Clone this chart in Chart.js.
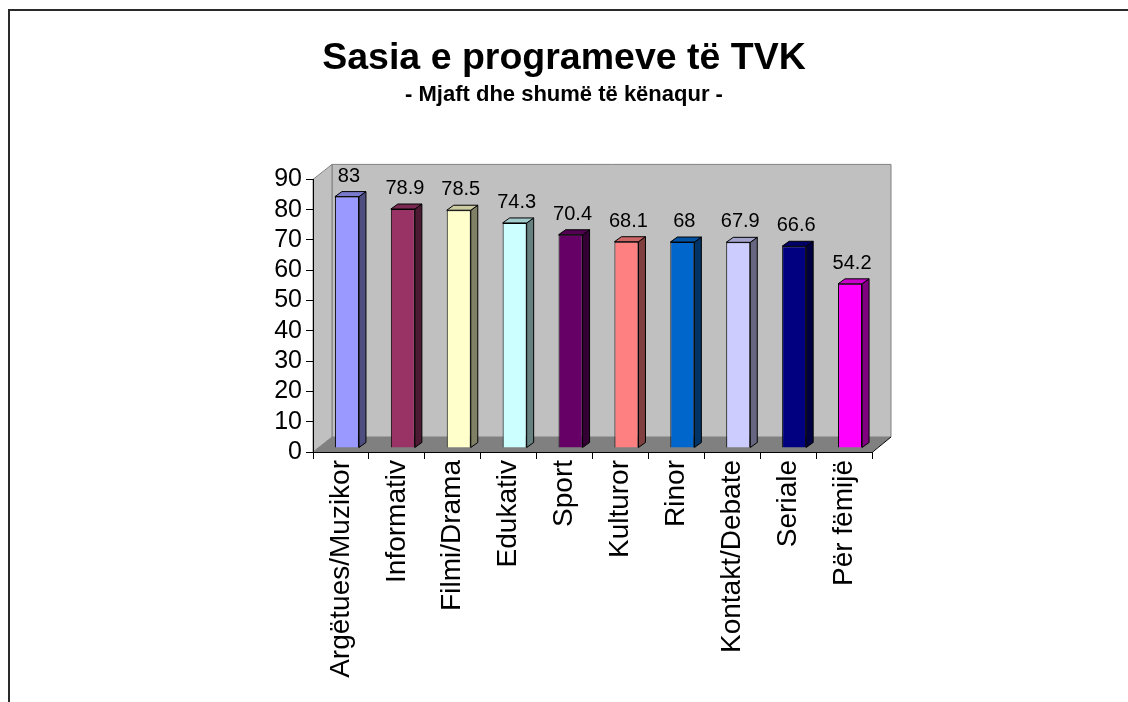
<!DOCTYPE html>
<html>
<head>
<meta charset="utf-8">
<title>Sasia e programeve të TVK</title>
<script src="https://cdn.jsdelivr.net/npm/chart.js@4/dist/chart.umd.min.js"></script>
<style>
  html, body { margin: 0; padding: 0; background: #fff; }
  #wrap { position: relative; width: 1128px; height: 702px; overflow: hidden; }
  #frame {
    position: absolute; left: 8px; top: 9px; width: 1200px; height: 800px;
    border-left: 2px solid #2a2a2a; border-top: 2px solid #2a2a2a;
  }
  canvas { position: absolute; left: 0; top: 0; }
</style>
</head>
<body>
<div id="wrap">
  <div id="frame"></div>
  <canvas id="chart" width="1128" height="702"></canvas>
</div>
<script>
const FONT = "'Liberation Sans', Arial, sans-serif";

const categories = [
  "Argëtues/Muzikor",
  "Informativ",
  "Filmi/Drama",
  "Edukativ",
  "Sport",
  "Kulturor",
  "Rinor",
  "Kontakt/Debate",
  "Seriale",
  "Për fëmijë",
];
const values = [83, 78.9, 78.5, 74.3, 70.4, 68.1, 68, 67.9, 66.6, 54.2];
const barColors = [
  "#9999ff",
  "#993366",
  "#ffffcc",
  "#ccffff",
  "#660066",
  "#ff8080",
  "#0066cc",
  "#ccccff",
  "#000080",
  "#ff00ff",
];
const yTicks = [0, 10, 20, 30, 40, 50, 60, 70, 80, 90];

// oblique depth of the chart box and of each bar
const DEPTH = { dx: 19, dy: -15 };
const BAR_DEPTH = { dx: 7, dy: -5 };
const BAR_SHIFT = { dx: 6, dy: -4 };

function shade(hex, k) {
  const n = parseInt(hex.slice(1), 16);
  const r = Math.round(((n >> 16) & 255) * k);
  const g = Math.round(((n >> 8) & 255) * k);
  const b = Math.round((n & 255) * k);
  return `rgb(${r},${g},${b})`;
}

function poly(ctx, pts, fill, stroke) {
  ctx.beginPath();
  ctx.moveTo(pts[0][0], pts[0][1]);
  pts.slice(1).forEach(p => ctx.lineTo(p[0], p[1]));
  ctx.closePath();
  if (fill) { ctx.fillStyle = fill; ctx.fill(); }
  if (stroke) { ctx.strokeStyle = stroke; ctx.lineWidth = 1; ctx.stroke(); }
}

const boxPlugin = {
  id: "box3d",
  beforeDraw(chart) {
    const { ctx, chartArea: a } = chart;
    const { dx, dy } = DEPTH;
    ctx.save();
    // back wall
    poly(ctx, [[a.left + dx, a.top + dy], [a.right + dx, a.top + dy], [a.right + dx, a.bottom + dy], [a.left + dx, a.bottom + dy]], "#c0c0c0", "#808080");
    // left wall
    poly(ctx, [[a.left, a.top], [a.left + dx, a.top + dy], [a.left + dx, a.bottom + dy], [a.left, a.bottom]], "#c0c0c0", "#808080");
    // floor
    poly(ctx, [[a.left, a.bottom], [a.right, a.bottom], [a.right + dx, a.bottom + dy], [a.left + dx, a.bottom + dy]], "#808080", null);
    ctx.beginPath();
    ctx.moveTo(a.right, a.bottom + 0.5);
    ctx.lineTo(a.right + dx, a.bottom + dy);
    ctx.strokeStyle = "#000";
    ctx.lineWidth = 1;
    ctx.stroke();
    ctx.restore();
  },
  beforeDatasetsDraw(chart) {
    chart.ctx.save();
    chart.ctx.translate(BAR_SHIFT.dx, BAR_SHIFT.dy);
  },
  afterDatasetsDraw(chart) {
    const { ctx } = chart;
    const meta = chart.getDatasetMeta(0);
    const { dx, dy } = BAR_DEPTH;
    meta.data.forEach((bar, i) => {
      const { x, y, base, width } = bar.getProps(["x", "y", "base", "width"], true);
      const l = x - width / 2, r = x + width / 2;
      const c = barColors[i];
      poly(ctx, [[r, y], [r + dx, y + dy], [r + dx, base + dy], [r, base]], shade(c, 0.5), "#000");
      poly(ctx, [[l, y], [l + dx, y + dy], [r + dx, y + dy], [r, y]], shade(c, 0.8), "#000");
    });
    ctx.restore();

    ctx.save();
    ctx.font = `20px ${FONT}`;
    ctx.fillStyle = "#000";
    ctx.textAlign = "center";
    ctx.textBaseline = "alphabetic";
    meta.data.forEach((bar, i) => {
      const { x, y } = bar.getProps(["x", "y"], true);
      ctx.fillText(String(values[i]), x + BAR_SHIFT.dx + 2, y + BAR_SHIFT.dy - 15);
    });
    ctx.restore();
  },
};

new Chart(document.getElementById("chart"), {
  type: "bar",
  data: {
    labels: categories,
    datasets: [{
      data: values,
      backgroundColor: barColors,
      borderColor: "#000",
      borderWidth: 1,
      barPercentage: 0.43,
      categoryPercentage: 1,
    }],
  },
  options: {
    responsive: false,
    animation: false,
    devicePixelRatio: 1,
    layout: { padding: 0 },
    plugins: {
      legend: { display: false },
      tooltip: { enabled: false },
      title: {
        display: true,
        text: "Sasia e programeve të TVK",
        color: "#000",
        font: { family: FONT, size: 37.5, weight: "bold", lineHeight: 1.2 },
        padding: { top: 36, bottom: 0 },
      },
      subtitle: {
        display: true,
        text: "- Mjaft dhe shumë të kënaqur -",
        color: "#000",
        font: { family: FONT, size: 22, weight: "bold", lineHeight: 1.2 },
        padding: { top: 1, bottom: 71 },
      },
    },
    scales: {
      x: {
        type: "category",
        offset: true,
        afterFit: scale => { scale.height = 250; },
        grid: {
          offset: true,
          drawOnChartArea: false,
          drawTicks: true,
          tickLength: 7,
          tickColor: "#000",
        },
        border: { display: true, color: "#000", width: 1 },
        ticks: {
          color: "#000",
          font: { family: FONT, size: 28 },
          minRotation: 90,
          maxRotation: 90,
          autoSkip: false,
          padding: 1,
        },
      },
      y: {
        min: 0,
        max: 90,
        afterFit: scale => { scale.width = 313; },
        afterBuildTicks: scale => { scale.ticks = yTicks.map(v => ({ value: v })); },
        grid: {
          drawOnChartArea: false,
          drawTicks: true,
          tickLength: 7,
          tickColor: "#000",
        },
        border: { display: true, color: "#000", width: 1 },
        ticks: {
          color: "#000",
          font: { family: FONT, size: 25 },
          padding: 4,
          autoSkip: false,
        },
      },
      // empty right axis only reserves the white margin to the right of the box
      yRight: {
        position: "right",
        min: 0,
        max: 90,
        afterFit: scale => { scale.width = 256; },
        grid: { display: false, drawOnChartArea: false },
        border: { display: false },
        ticks: { display: false },
      },
    },
  },
  plugins: [boxPlugin],
});
</script>
</body>
</html>
